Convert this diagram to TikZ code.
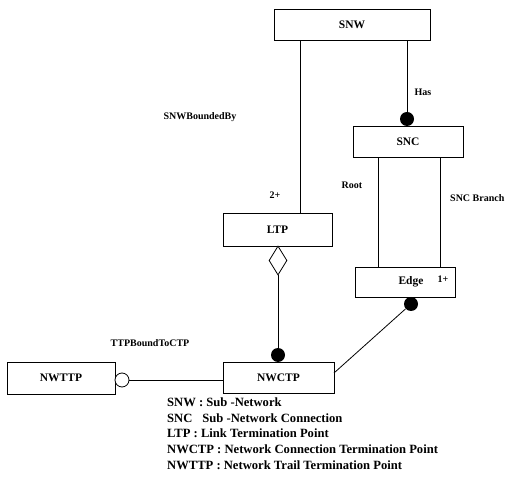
\documentclass[tikz,border=0pt]{standalone}
\usepackage{fontspec}
\setmainfont{Liberation Serif}
\usetikzlibrary{shapes.geometric}
\begin{document}
\begin{tikzpicture}[x=1pt,y=-1pt,
  box/.style={draw,thick,fill=white,inner sep=0pt,font=\bfseries\fontsize{11.5}{13}\selectfont},
  dot/.style={circle,fill=black,inner sep=0pt,minimum size=14pt},
  odot/.style={circle,draw,thick,fill=white,inner sep=0pt,minimum size=14pt},
  agg/.style={diamond,draw,thick,fill=white,inner sep=0pt,minimum width=18pt,minimum height=29pt},
  conn/.style={draw,thick},
  lbl/.style={font=\bfseries\fontsize{10}{12}\selectfont,inner sep=0pt},
  leg/.style={font=\bfseries\fontsize{12.6}{16}\selectfont,inner sep=0pt,anchor=west}]
\useasboundingbox (0,0) rectangle (509,502);
% boxes
\node[box,minimum width=156pt,minimum height=31pt] (snw) at (352,24.5) {SNW};
\node[box,minimum width=110pt,minimum height=31pt] (snc) at (408,141.5) {SNC};
\node[box,minimum width=109pt,minimum height=33pt] (ltp) at (277.5,229.5) {LTP};
\node[box,minimum width=100pt,minimum height=30pt] (edge) at (405,282) {\hspace{12pt}Edge};
\node[box,minimum width=111pt,minimum height=31pt] (nwctp) at (278.5,377.5) {NWCTP};
\node[box,minimum width=108pt,minimum height=32pt] (nwttp) at (61,378) {NWTTP};
% adornments
\node[dot] (dhas) at (407,119) {};
\node[agg] (dia) at (278,260.5) {};
\node[dot] (dctp) at (278,355) {};
\node[dot] (dedge) at (411,304) {};
\node[odot] (otp) at (122,380) {};
\coordinate (cornerctp) at (334,373);
% connectors
\draw[conn] (snw.south -| 300,0) -- (ltp.north -| 300,0);
\draw[conn] (snw.south -| dhas) -- (dhas);
\draw[conn] (snc.south -| 378,0) -- (edge.north -| 378,0);
\draw[conn] (snc.south -| 440,0) -- (edge.north -| 440,0);
\draw[conn] (dia.south) -- (dctp);
\draw[conn] (dedge) -- (cornerctp);
\draw[conn] (otp.east) -- (otp.east -| nwctp.west);
% labels
\node[lbl] (l1) at (200,117) {SNWBoundedBy};
\node[lbl] (l2) at (423,92) {Has};
\node[lbl] (l3) at (352,185) {Root};
\node[lbl,anchor=west] (l4) at (450,198) {SNC Branch};
\node[lbl] (l5) at (275,195) {2+};
\node[lbl] (l6) at (443,279) {1+};
\node[lbl] (l7) at (150,343) {TTPBoundToCTP};
% legend
\node[leg] (g1) at (167,402) {SNW : Sub -Network};
\node[leg] (g2) at (167,418) {SNC\hspace{0.8em}Sub -Network Connection};
\node[leg] (g3) at (167,433.5) {LTP : Link Termination Point};
\node[leg] (g4) at (167,449) {NWCTP : Network Connection Termination Point};
\node[leg] (g5) at (167,465) {NWTTP : Network Trail Termination Point};
\end{tikzpicture}
\end{document}
